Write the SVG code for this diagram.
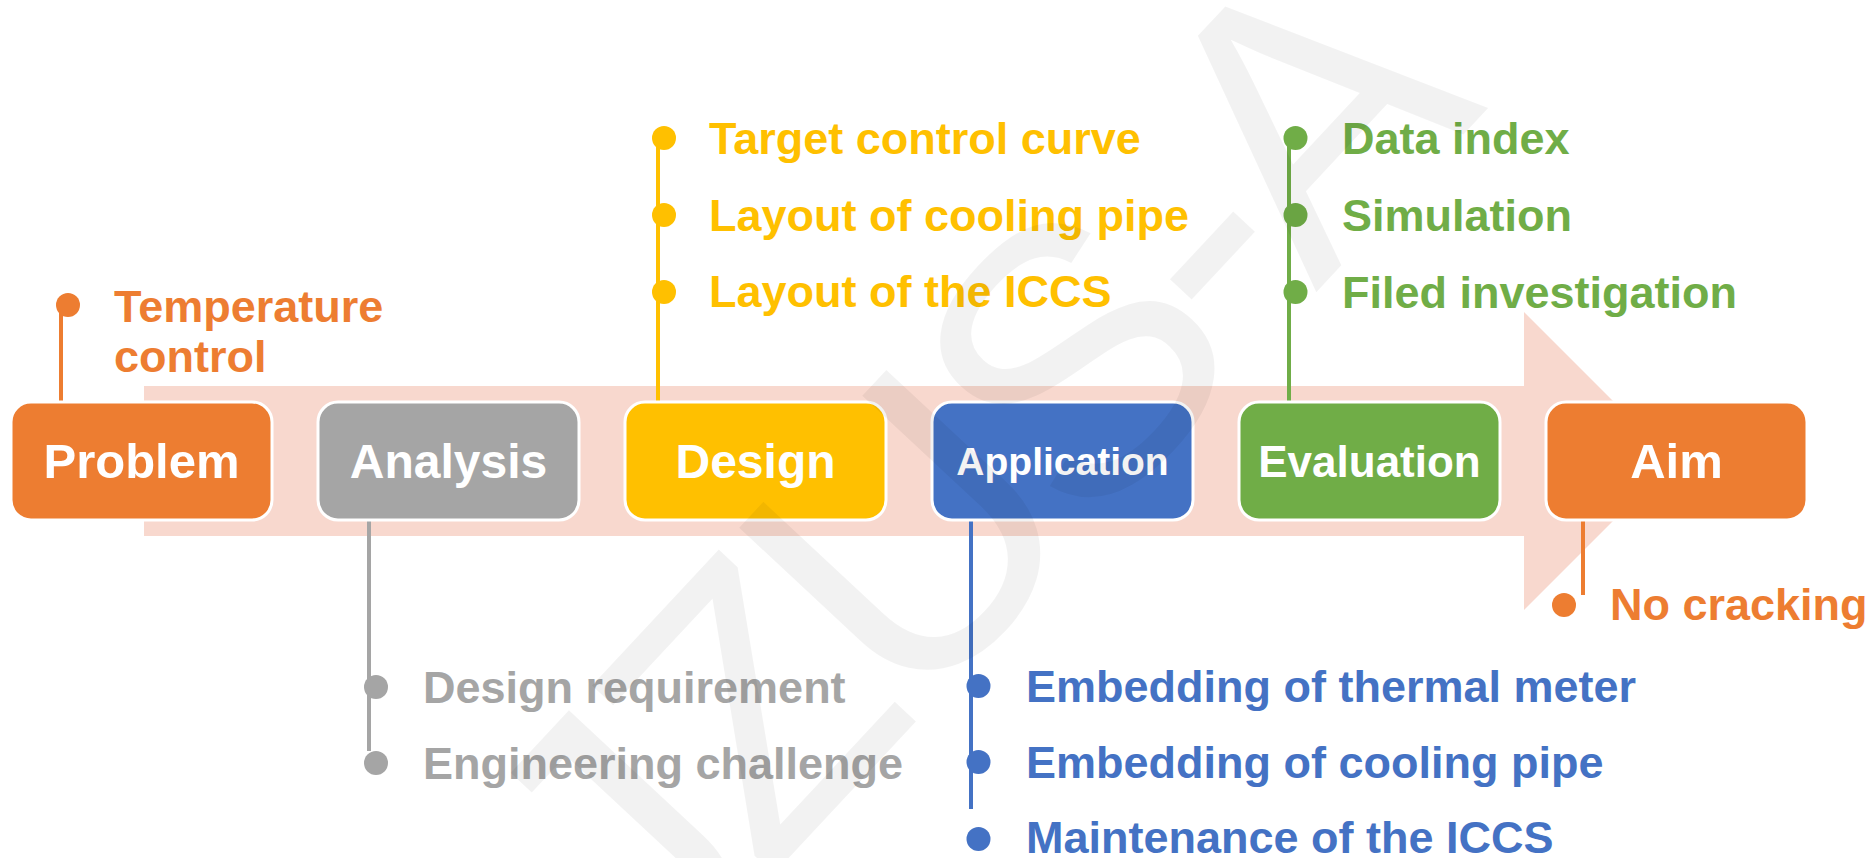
<svg xmlns="http://www.w3.org/2000/svg" width="1870" height="858" viewBox="0 0 1870 858">
<style>
.box{stroke:#fff;stroke-width:3}
.lbl{font-family:"Liberation Sans",Arial,sans-serif;font-weight:bold;fill:#fff;text-anchor:middle}
.item{font-family:"Liberation Sans",Arial,sans-serif;font-weight:bold;font-size:45px}
.ln{stroke-width:4;fill:none}
.or{fill:#ED7D31}.gy{fill:#A5A5A5}.yl{fill:#FFC000}.bl{fill:#4472C4}.gn{fill:#70AD47}
.sor{stroke:#ED7D31}.sgy{stroke:#A5A5A5}.syl{stroke:#FFC000}.sbl{stroke:#4472C4}.sgn{stroke:#70AD47}
.wm{font-family:"Liberation Sans",Arial,sans-serif;font-size:380px;fill:#000;fill-opacity:0.05;text-anchor:end;letter-spacing:-20px}
</style>
<rect width="1870" height="858" fill="#fff"/>
<path id="band" d="M144,386 H1524 V312 L1673,461 L1524,610 V536 H144 Z" fill="#F8D8CE"/>
<g id="connectors">
  <line class="ln sor" x1="61" y1="305" x2="61" y2="402"/>
  <line class="ln sgy" x1="369" y1="520" x2="369" y2="751"/>
  <line class="ln syl" x1="658" y1="138" x2="658" y2="402"/>
  <line class="ln sbl" x1="971" y1="520" x2="971" y2="809"/>
  <line class="ln sgn" x1="1289" y1="138" x2="1289" y2="402"/>
  <line class="ln sor" x1="1583" y1="520" x2="1583" y2="595"/>
</g>
<g id="problem">
  <rect class="box or" x="11" y="402" width="261" height="118" rx="20"/>
  <text class="lbl" x="141.5" y="478" font-size="49">Problem</text>
  <circle class="or" cx="68" cy="305" r="12"/>
  <text class="item or" x="114" y="322">Temperature</text>
  <text class="item or" x="114" y="372">control</text>
</g>
<g id="analysis">
  <rect class="box gy" x="318" y="402" width="261" height="118" rx="20"/>
  <text class="lbl" x="448.5" y="478" font-size="48">Analysis</text>
  <circle class="gy" cx="376" cy="687" r="12"/>
  <circle class="gy" cx="376" cy="763" r="12"/>
  <text class="item gy" x="423" y="703">Design requirement</text>
  <text class="item gy" x="423" y="779">Engineering challenge</text>
</g>
<g id="design">
  <rect class="box yl" x="625" y="402" width="261" height="118" rx="20"/>
  <text class="lbl" x="755.5" y="478" font-size="48">Design</text>
  <circle class="yl" cx="664" cy="138" r="12"/>
  <circle class="yl" cx="664" cy="215" r="12"/>
  <circle class="yl" cx="664" cy="292" r="12"/>
  <text class="item yl" x="709" y="154">Target control curve</text>
  <text class="item yl" x="709" y="231">Layout of cooling pipe</text>
  <text class="item yl" x="709" y="307">Layout of the ICCS</text>
</g>
<g id="application">
  <rect class="box bl" x="932" y="402" width="261" height="118" rx="20"/>
  <text class="lbl" x="1062.5" y="475" font-size="39">Application</text>
  <circle class="bl" cx="978.5" cy="686" r="12"/>
  <circle class="bl" cx="978.5" cy="762" r="12"/>
  <circle class="bl" cx="978.5" cy="839" r="12"/>
  <text class="item bl" x="1026" y="702">Embedding of thermal meter</text>
  <text class="item bl" x="1026" y="778">Embedding of cooling pipe</text>
  <text class="item bl" x="1026" y="853">Maintenance of the ICCS</text>
</g>
<g id="evaluation">
  <rect class="box gn" x="1239" y="402" width="261" height="118" rx="20"/>
  <text class="lbl" x="1369.5" y="477" font-size="44">Evaluation</text>
  <circle class="gn" cx="1295.5" cy="138" r="12"/>
  <circle class="gn" cx="1295.5" cy="215" r="12"/>
  <circle class="gn" cx="1295.5" cy="292" r="12"/>
  <text class="item gn" x="1342" y="154">Data index</text>
  <text class="item gn" x="1342" y="231">Simulation</text>
  <text class="item gn" x="1342" y="308">Filed investigation</text>
</g>
<g id="aim">
  <rect class="box or" x="1546" y="402" width="261" height="118" rx="20"/>
  <text class="lbl" x="1676.5" y="478" font-size="49">Aim</text>
  <circle class="or" cx="1564" cy="605" r="12"/>
  <text class="item or" x="1610" y="620">No cracking</text>
</g>
<text class="wm" transform="translate(1475,122) rotate(-47)">JZUS-A</text>
</svg>
